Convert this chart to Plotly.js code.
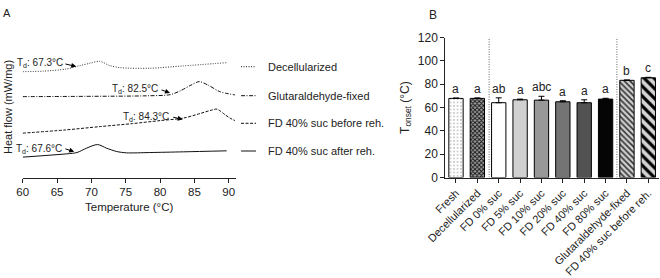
<!DOCTYPE html>
<html><head><meta charset="utf-8">
<script src="https://cdn.plot.ly/plotly-3.0.1.min.js"></script>
<style>html,body{margin:0;padding:0;background:#fff}#c{width:660px;height:278px}</style>
</head><body><div id="c"></div>
<script>
// ---------- Panel A: DSC curves (temperature °C, heat flow arbitrary offset units)
const tDecell = [60, 63, 66.4, 68.3, 69.8, 71.2, 72.7, 74.2, 78.5, 83.3, 89.7];
const hDecell = [10.6, 10.65, 10.87, 11.2, 11.44, 11.64, 11.2, 11.0, 10.94, 11.17, 11.5];
const tGlut = [60, 70, 78, 81.5, 83, 84.5, 85.7, 87, 88.7, 90.9];
const hGlut = [8.1, 8.13, 8.18, 8.3, 8.7, 9.25, 9.6, 9.25, 8.6, 8.27];
const tBefore = [60, 66, 71.3, 76, 80, 83.4, 85.8, 87.5, 88.3, 89.5, 90.2, 90.9];
const hBefore = [4.44, 4.75, 5.1, 5.4, 5.7, 5.95, 6.4, 6.75, 6.84, 6.27, 5.94, 5.7];
const tAfter = [60, 66.4, 67.9, 69.3, 70.9, 72.2, 73.7, 75.1, 78.5, 83.4, 89.7];
const hAfter = [2.04, 2.37, 2.5, 2.94, 3.3, 2.94, 2.6, 2.47, 2.5, 2.57, 2.67];
const curveNames = ["Decellularized", "Glutaraldehyde-fixed", "FD 40% suc before reh.", "FD 40% suc after reh."];
const tdValues = [67.3, 82.5, 84.3, 67.6];

// ---------- Panel B: Tonset bars
const categories = ["Fresh", "Decellularized", "FD 0% suc", "FD 5% suc", "FD 10% suc", "FD 20% suc", "FD 40% suc", "FD 80% suc", "Glutaraldehyde-fixed", "FD 40% suc before reh."];
const tonset = [67.9, 67.9, 64.2, 66.7, 66.4, 65.0, 64.2, 67.3, 83.4, 85.6];
const tonsetErr = [0.3, 0.4, 4.2, 0.6, 3.3, 0.9, 2.5, 0.7, 0.3, 0.4];
const letters = ["a", "a", "ab", "a", "abc", "a", "a", "a", "b", "c"];

// ---------- styles
const curveDash = ["1px,1.5px", "4px,1.5px,1px,1.5px", "3px,1.5px", "solid"];
const barFill = ["#ffffff", "#999999", "#ffffff", "#d0d0d0", "#989898", "#747474", "#525252", "#050505", "#cccccc", "#d4d4d4"];
const barPattern = [
  {shape: ".", fgcolor: "#888", bgcolor: "#fff", size: 3.5, solidity: 0.12},
  {shape: "x", fgcolor: "#111", bgcolor: "#a0a0a0", size: 3, solidity: 0.5},
  null, null, null, null, null, null,
  {shape: "\\", fgcolor: "#333", bgcolor: "#d0d0d0", size: 4, solidity: 0.4},
  {shape: "\\", fgcolor: "#000", bgcolor: "#d4d4d4", size: 7, solidity: 0.45}
];

const txtColor = "#222";
const fnt = "Liberation Sans, Arial, sans-serif";

const xs = [tDecell, tGlut, tBefore, tAfter];
const ys = [hDecell, hGlut, hBefore, hAfter];
const traces = xs.map((x, i) => ({
  type: "scatter", mode: "lines", x: x, y: ys[i], name: curveNames[i],
  line: {color: i === 0 ? "#333" : "#111", width: 1, dash: curveDash[i], shape: "spline", smoothing: 0.8},
  xaxis: "x", yaxis: "y", showlegend: false, hoverinfo: "skip"
}));

categories.forEach((c, i) => {
  const marker = {color: barFill[i], line: {color: "#000", width: 1}};
  if (barPattern[i]) marker.pattern = Object.assign({fillmode: "replace"}, barPattern[i]);
  traces.push({
    type: "bar", x: [c], y: [tonset[i]], xaxis: "x2", yaxis: "y2", showlegend: false, name: c,
    error_y: {type: "data", symmetric: false, array: [tonsetErr[i]], arrayminus: [0], color: "#000", thickness: 1, width: 3},
    marker: marker, hoverinfo: "skip"
  });
});

const yDom = [0.3615, 0.8644];
const annotations = [];
function ann(o) { annotations.push(Object.assign({xanchor: "center", yanchor: "middle", showarrow: false}, o)); }
// panel labels
ann({xref: "paper", yref: "paper", x: 0.0112, y: 0.955, text: "A", font: {size: 11, color: txtColor, family: fnt}});
ann({xref: "paper", yref: "paper", x: 0.656, y: 0.946, text: "B", font: {size: 12, color: txtColor, family: fnt}});
// axis titles
ann({xref: "paper", yref: "paper", x: 0.0121, y: 0.615, text: "Heat flow (mW/mg)", textangle: -90, font: {size: 11, color: txtColor, family: fnt}});
ann({xref: "paper", yref: "paper", x: 0.1955, y: 0.254, text: "Temperature (°C)", font: {size: 11.5, color: txtColor, family: fnt}});
ann({xref: "paper", yref: "paper", x: 0.615, y: 0.615, text: "T<sub>onset</sub> (°C)", textangle: -90, font: {size: 12, color: txtColor, family: fnt}});

// Td labels with arrows (text pos, arrow tail, arrow head in data coords)
const tdText = [[62.5, 11.44], [76.3, 8.84], [78.0, 6.1], [62.3, 2.87]];
const tdTail = [[66.0, 11.4], [80.0, 8.82], [81.7, 6.07], [66.0, 2.92]];
const tdHead = [[67.8, 11.12], [81.45, 8.47], [83.3, 5.82], [67.5, 2.57]];
tdValues.forEach((v, i) => {
  ann({xref: "x", yref: "y", x: tdText[i][0], y: tdText[i][1], text: "T<sub>d</sub>: " + v.toFixed(1) + "°C", font: {size: 10, color: txtColor, family: fnt}});
  annotations.push({xref: "x", yref: "y", axref: "x", ayref: "y", x: tdHead[i][0], y: tdHead[i][1], ax: tdTail[i][0], ay: tdTail[i][1], text: "", showarrow: true, arrowhead: 2, arrowsize: 1, arrowwidth: 1, arrowcolor: "#000", standoff: 0});
});

// manual legend for panel A
const legY = [0.760, 0.6558, 0.5565, 0.4568];
const shapes = [];
curveNames.forEach((n, i) => {
  shapes.push({type: "line", xref: "paper", yref: "paper", x0: 0.3652, x1: 0.3879, y0: legY[i], y1: legY[i], line: {color: "#111", width: 1, dash: curveDash[i]}});
  ann({xref: "paper", yref: "paper", x: 0.403, y: legY[i], xanchor: "left", text: n, font: {size: 11, color: txtColor, family: fnt}});
});

// letters above bars
categories.forEach((c, i) => {
  ann({xref: "x2", yref: "y2", x: c, y: tonset[i] + tonsetErr[i], yanchor: "bottom", yshift: 0, text: letters[i], font: {size: 12, color: txtColor, family: fnt}});
});

// separator dotted lines in panel B
[1.55, 7.53].forEach(xv => {
  shapes.push({type: "line", xref: "x2", yref: "y2", x0: xv, x1: xv, y0: 0, y1: 123, line: {color: "#666", width: 1, dash: "1px,1.5px"}});
});

const layout = {
  width: 660, height: 278,
  margin: {l: 0, r: 0, t: 0, b: 0, autoexpand: false},
  paper_bgcolor: "#fff", plot_bgcolor: "rgba(0,0,0,0)",
  font: {family: fnt, color: txtColor, size: 11},
  barmode: "overlay", bargap: 0.33,
  xaxis: {domain: [0.0344, 0.3576], range: [60, 91.06], tickvals: [60, 65, 70, 75, 80, 85, 90], automargin: false,
          showline: true, linecolor: "#222", linewidth: 1, ticks: "outside", ticklen: 4, tickcolor: "#222",
          showgrid: false, zeroline: false, tickfont: {size: 11.5}, anchor: "y"},
  yaxis: {domain: yDom, range: [0, 14], visible: false, anchor: "x", automargin: false},
  xaxis2: {domain: [0.6747, 0.9985], range: [-0.5, 9.5], type: "category", categoryorder: "array", categoryarray: categories,
           anchor: "y2", automargin: false,
           showline: true, linecolor: "#222", linewidth: 1, ticks: "outside", ticklen: 4, tickcolor: "#222",
           tickangle: -45, tickfont: {size: 11}, showgrid: false, zeroline: false},
  yaxis2: {domain: yDom, range: [0, 120], dtick: 20, anchor: "x2", automargin: false,
           showline: true, linecolor: "#222", linewidth: 1, ticks: "outside", ticklen: 4, tickcolor: "#222",
           tickfont: {size: 12}, showgrid: false, zeroline: false},
  annotations: annotations,
  shapes: shapes
};
Plotly.newPlot("c", traces, layout, {staticPlot: true, displayModeBar: false});
</script></body></html>
